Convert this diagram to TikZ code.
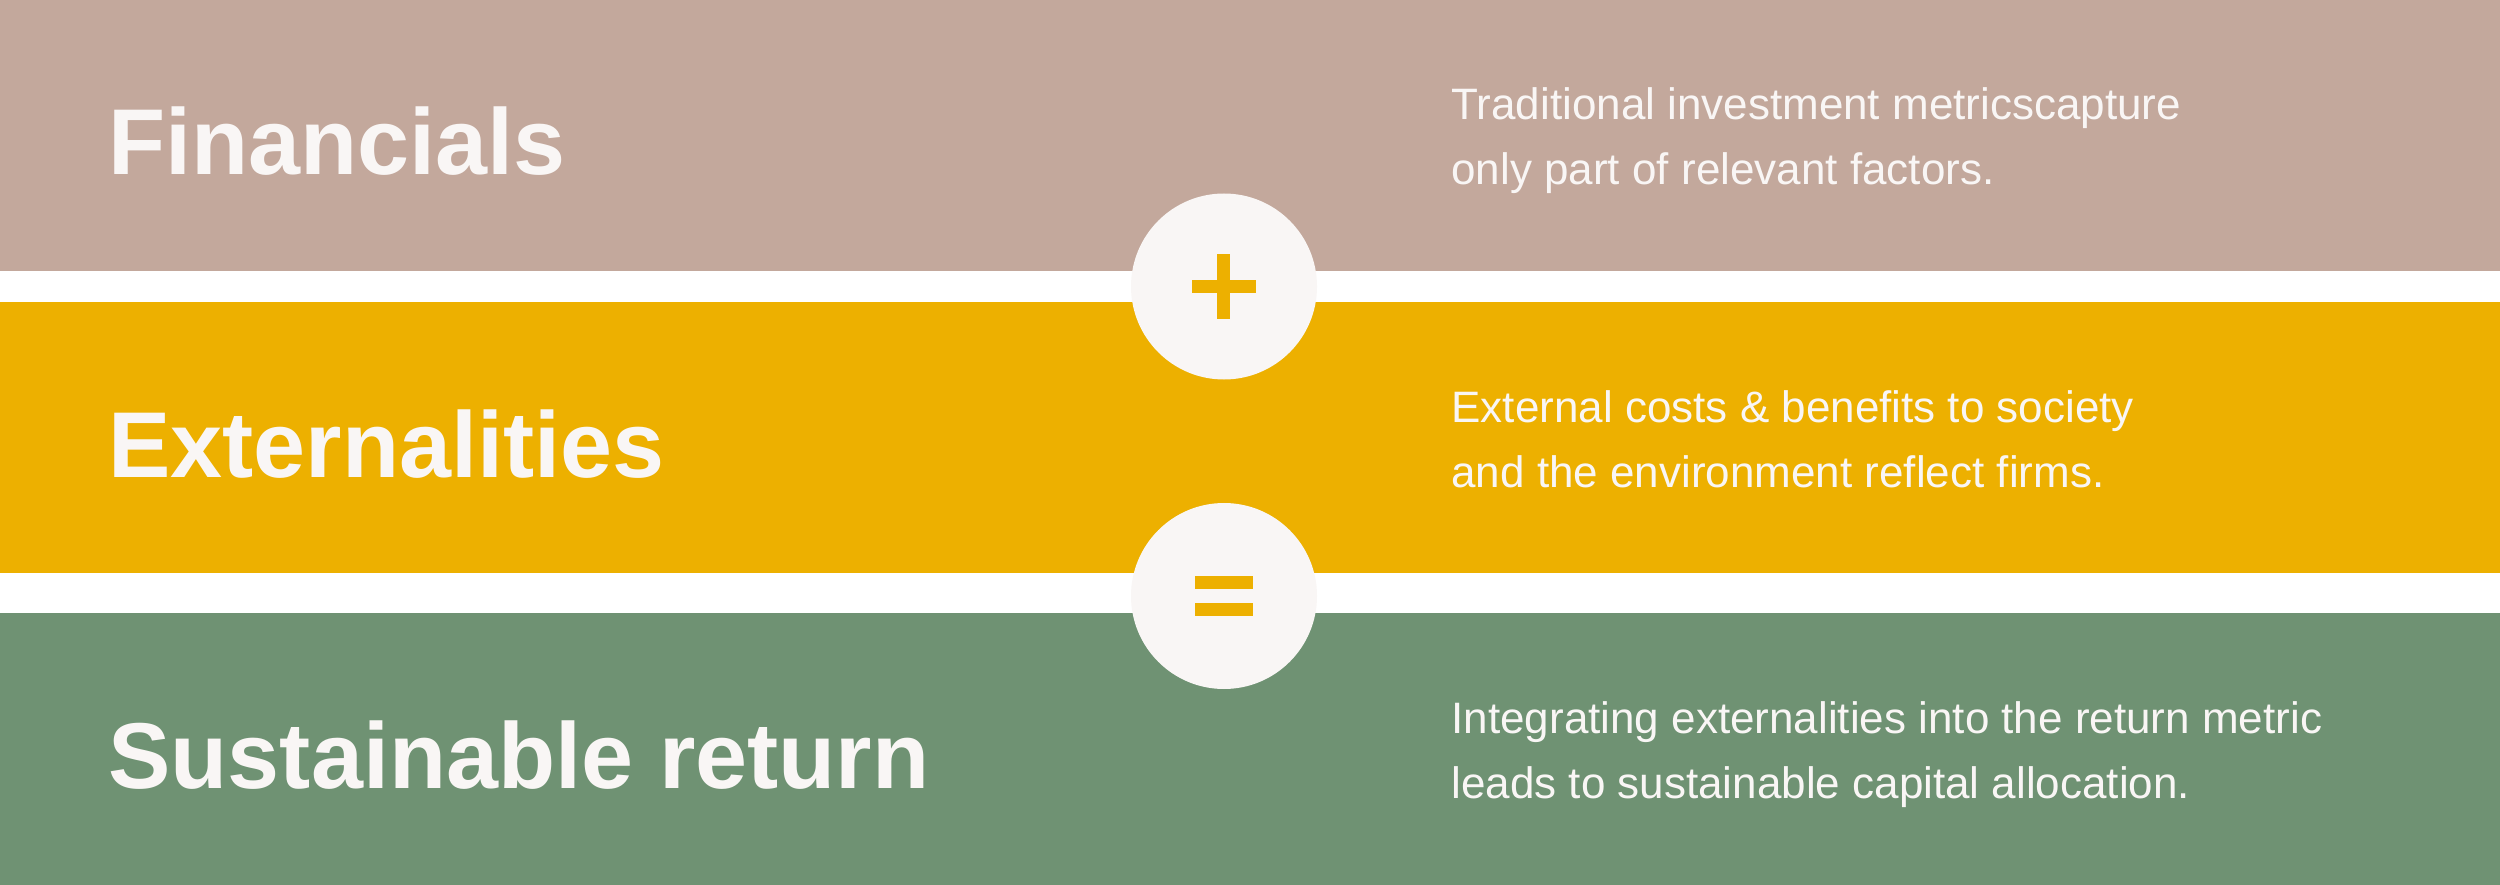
\documentclass[tikz,border=0pt]{standalone}
\usepackage{fontspec}
\setmainfont{Liberation Sans}
\definecolor{finbrown}{RGB}{195,168,156}
\definecolor{extyellow}{RGB}{237,176,0}
\definecolor{susgreen}{RGB}{111,146,115}
\definecolor{chalk}{RGB}{249,246,245}

\tikzset{
  bandtitle/.style={anchor=base west, inner sep=0pt, text=chalk,
    font=\fontsize{37.4}{45}\selectfont\bfseries},
  bandnote/.style={anchor=base west, inner sep=0pt, text=chalk, align=left,
    font=\fontsize{17.6}{26}\selectfont},
  opbubble/.style={circle, fill=chalk, inner sep=0pt, minimum size=74.4pt}
}

\begin{document}
\begin{tikzpicture}[x=0.4pt, y=-0.4pt]
  \useasboundingbox (0,0) rectangle (2500,885);
  \fill[white] (0,0) rectangle (2500,885);
  % bands
  \fill[finbrown] (0,0) rectangle (2500,271);
  \fill[extyellow] (0,302) rectangle (2500,573);
  \fill[susgreen] (0,613) rectangle (2500,885);
  % titles
  \node[bandtitle] (fin) at (108,175) {Financials};
  \node[bandtitle] (ext) at (108,478) {Externalities};
  \node[bandtitle] (sus) at (108,788) {Sustainable return};
  % notes (anchored on the last line)
  \node[bandnote] (finnote) at (1451,185)
    {Traditional investment metricscapture\\only part of relevant factors.};
  \node[bandnote] (extnote) at (1451,487)
    {External costs \& benefits to society\\and the environment reflect firms.};
  \node[bandnote] (susnote) at (1451,798)
    {Integrating externalities into the return metric\\leads to sustainable capital allocation.};
  % operators
  \node[opbubble] (plus) at (1224,286.5) {};
  \node[opbubble] (equals) at (1224,596) {};
  \fill[extyellow] (1192,280) rectangle (1256,293);
  \fill[extyellow] (1217,254) rectangle (1230,319);
  \fill[extyellow] (1195,576) rectangle (1253,589);
  \fill[extyellow] (1195,603) rectangle (1253,616);
\end{tikzpicture}
\end{document}
